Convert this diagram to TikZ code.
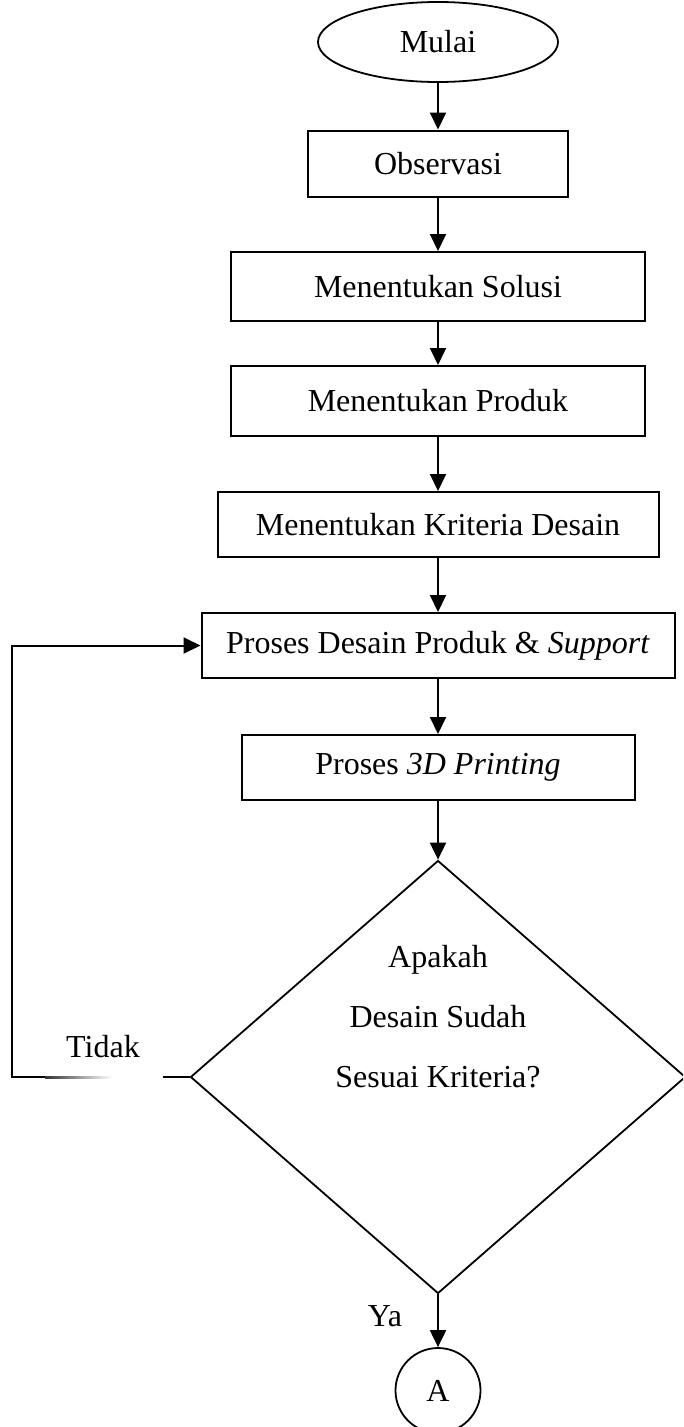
\documentclass[tikz,border=0pt]{standalone}
\usepackage{fontspec}
\setmainfont{Liberation Serif}
\usetikzlibrary{shapes.geometric,arrows.meta}
\begin{document}
\begin{tikzpicture}[x=1pt,y=-1pt,
  every node/.style={font=\fontsize{32}{60}\selectfont},
  line/.style={line width=2pt},
  arr/.style={line width=2pt, -{Triangle[length=17pt,width=16pt]}},
  procbox/.style={draw, line width=2pt, rectangle, inner sep=0pt, minimum height=66pt},
  term/.style={draw, line width=1.8pt, ellipse, inner sep=0pt, minimum width=240pt, minimum height=80pt},
  decision/.style={draw, line width=1.8pt, diamond, inner sep=0pt, aspect=1.143, minimum width=495pt, minimum height=433pt},
  conn/.style={draw, line width=1.8pt, circle, inner sep=0pt, minimum size=85pt}]
\useasboundingbox (0,0) rectangle (683,1427);
\clip (0,0) rectangle (683,1427);
\node[term] (start) at (438,42) {Mulai};
\node[procbox, minimum width=260pt] (obs) at (438,163.5) {Observasi};
\node[procbox, minimum width=414pt, minimum height=69pt] (sol) at (438,286.5) {Menentukan Solusi};
\node[procbox, minimum width=414pt, minimum height=70pt] (prod) at (438,401) {Menentukan Produk};
\node[procbox, minimum width=441pt, minimum height=65pt] (krit) at (438,524.5) {Menentukan Kriteria Desain};
\node[procbox, minimum width=473pt, minimum height=65pt] (desain) at (438,645.5) {Proses Desain Produk \& \textit{Support}};
\node[procbox, minimum width=393pt, minimum height=65pt] (print) at (438,767.5) {Proses \textit{3D Printing}};
\node[decision] (dec) at (438,1077) {};
\node[align=center] (dtext) at (438,1017) {Apakah\\Desain Sudah\\Sesuai Kriteria?};
\node (tidak) at (103,1047) {Tidak};
\node (ya) at (385,1316) {Ya};
\node[conn] (A) at (438,1390.5) {A};
\coordinate (gapR) at (163,1077);
\coordinate (gapL) at (45,1077);
\coordinate (corner) at (12,1077);

\draw[arr] (start) -- (obs);
\draw[arr] (obs) -- (sol);
\draw[arr] (sol) -- (prod);
\draw[arr] (prod) -- (krit);
\draw[arr] (krit) -- (desain);
\draw[arr] (desain) -- (print);
\draw[arr] (print) -- (dec.north);
\draw[arr] (dec.south) -- (A.north);
\draw[line] (dec.west) -- (gapR);
\shade[left color=black!80, right color=white] (45,1076) rectangle (112,1078);
\draw[arr] (gapL) -- (corner) |- (desain.west);
\end{tikzpicture}
\end{document}
